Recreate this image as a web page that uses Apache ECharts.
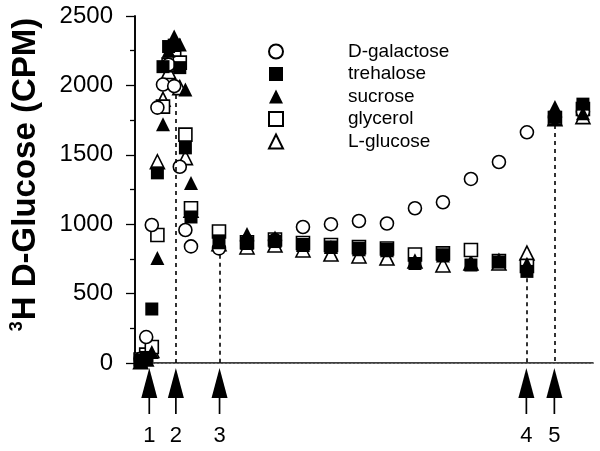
<!DOCTYPE html>
<html>
<head>
<meta charset="utf-8">
<script src="https://cdn.jsdelivr.net/npm/echarts@6/dist/echarts.min.js"></script>
<style>html,body{margin:0;padding:0;background:#fff}#c{width:600px;height:451px}</style>
</head>
<body>
<div id="c"></div>
<script>
// fraction / time values (x)
const xs = [1,2,3,4,5,6,7,8,9,10,15,20,25,30,35,40,45,50,55,60,65,70,75,80];
// CPM values per series
const galactose = [30,187,994,1840,2006,2150,1995,1414,958,840,826,880,885,980,1000,1023,1005,1115,1158,1326,1448,1662,1770,1810];
const trehalose = [20,40,389,1370,2135,2280,2290,2128,1550,1052,880,861,875,854,836,825,818,717,780,706,728,660,1770,1865];
const sucrose   = [10,30,80,757,1720,2250,2352,2294,1970,1297,870,929,905,850,835,820,812,740,775,715,745,715,1845,1800];
const glycerol  = [25,60,115,922,1847,2150,2200,2164,1645,1115,947,870,890,865,850,835,825,782,790,814,735,700,1765,1830];
const lglucose  = [10,30,90,1450,1900,2100,2150,1984,1480,1100,860,836,850,814,785,771,756,735,706,720,720,792,1760,1775];
const seriesNames = ['D-galactose','trehalose','sucrose','glycerol','L-glucose'];
const yTicks = [0,500,1000,1500,2000,2500];
// arrow annotations
const arrowX = [2.55,7.3,15.1,69.9,74.9];
const arrowLabels = ['1','2','3','4','5'];
const dashX = [7.3,15.1,69.9,74.9];
const dashTop = [1930,780,610,1715];

const FONT = '"Liberation Sans", Arial, Helvetica, sans-serif';
const pts = arr => xs.map((x,i)=>[x,arr[i]]);
const open = {color:'#fff', borderColor:'#000', borderWidth:1.6, opacity:1};
const filled = {color:'#000', borderColor:'#000', borderWidth:0, opacity:1};

const chart = echarts.init(document.getElementById('c'), null, {renderer:'canvas'});
const option = {
  animation:false,
  textStyle:{fontFamily:FONT},
  grid:{left:132,right:7,top:16,bottom:88,containLabel:false},
  legend:{
    orient:'vertical', left:263, top:37, itemWidth:14, itemHeight:14, itemGap:3.5,
    data:seriesNames,
    textStyle:{fontFamily:FONT,fontSize:19,color:'#000',lineHeight:19,padding:[0,0,0,60]},
    selectedMode:false
  },
  xAxis:[
    {type:'value',min:0,max:81.8,position:'bottom',
     axisLine:{show:true,lineStyle:{color:'#000',width:1.6}},
     axisTick:{show:false},axisLabel:{show:false},splitLine:{show:false}},
    {type:'value',min:0,max:81.8,position:'top',
     axisLine:{show:true,lineStyle:{color:'#777',width:1,type:[2,2]}},
     axisTick:{show:false},axisLabel:{show:false},splitLine:{show:false}}
  ],
  yAxis:[
    {type:'value',min:yTicks[0],max:yTicks[yTicks.length-1],interval:500,position:'left',
     name:'{s|3}{b|H D-Glucose (CPM)}',nameLocation:'middle',nameGap:91,nameRotate:90,
     nameTextStyle:{padding:[0,0,0,30],rich:{
       s:{fontFamily:FONT,fontSize:18,fontWeight:'bold',color:'#000',verticalAlign:'top',padding:[0,1,0,0]},
       b:{fontFamily:FONT,fontSize:33,fontWeight:'bold',color:'#000',lineHeight:36}}},
     axisLine:{show:true,lineStyle:{color:'#000',width:1.6}},
     axisTick:{show:true,inside:false,length:9,lineStyle:{color:'#000',width:1.3}},
     minorTick:{show:true,splitNumber:2,length:5,lineStyle:{color:'#000',width:1.3}},
     axisLabel:{show:true,margin:22,fontFamily:FONT,fontSize:24,color:'#000',formatter:v=>String(v)},
     splitLine:{show:false},minorSplitLine:{show:false}},
    {type:'value',min:0,max:2500,position:'right',
     axisLine:{show:true,lineStyle:{color:'#000',width:1.6}},
     axisTick:{show:false},axisLabel:{show:false},splitLine:{show:false}}
  ],
  series:[
    {name:'L-glucose',type:'scatter',data:pts(lglucose),symbol:'triangle',symbolSize:14,itemStyle:open,z:2},
    {name:'glycerol',type:'scatter',data:pts(glycerol),symbol:'rect',symbolSize:13,itemStyle:open,z:2},
    {name:'D-galactose',type:'scatter',data:pts(galactose),symbol:'circle',symbolSize:13,itemStyle:open,z:2},
    {name:'trehalose',type:'scatter',data:pts(trehalose),symbol:'rect',symbolSize:13,itemStyle:filled,z:3},
    {name:'sucrose',type:'scatter',data:pts(sucrose),symbol:'triangle',symbolSize:14,itemStyle:filled,z:3},
    {name:'markers',type:'scatter',data:[],silent:true,
     markLine:{silent:true,symbol:['none','none'],animation:false,label:{show:false},
       lineStyle:{color:'#000',width:1.6,type:[4,4]},
       data:dashX.map((x,i)=>[{coord:[x,dashTop[i]]},{coord:[x,0]}])}}
  ]
};
chart.setOption(option);

// arrows below the axis, placed through the axis scale
const y0 = chart.convertToPixel({yAxisIndex:0}, 0);
const graphics = [];
arrowX.forEach((x,i)=>{
  const px = chart.convertToPixel({xAxisIndex:0}, x);
  graphics.push({type:'polygon',shape:{points:[[px,y0+5],[px-8,y0+35],[px+8,y0+35]]},style:{fill:'#000'},silent:true});
  graphics.push({type:'line',shape:{x1:px,y1:y0+30,x2:px,y2:y0+51},style:{stroke:'#000',lineWidth:1.7},silent:true});
  graphics.push({type:'text',x:px,y:y0+73,style:{text:arrowLabels[i],fill:'#000',font:'22px '+FONT,align:'center',verticalAlign:'middle'},silent:true});
});
chart.setOption({graphic:graphics});
</script>
</body>
</html>
